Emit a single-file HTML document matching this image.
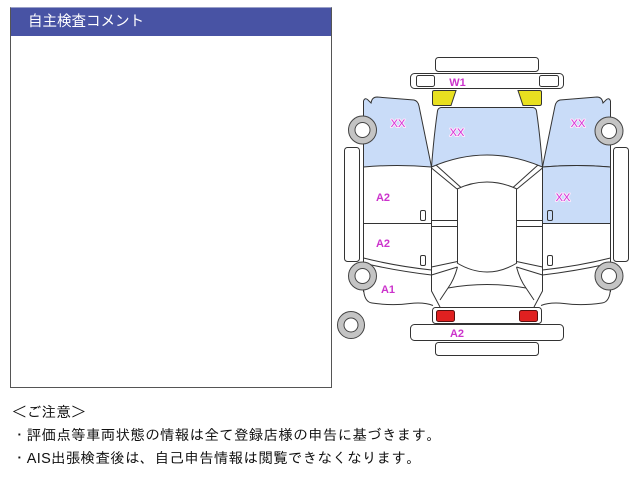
<!DOCTYPE html>
<html><head><meta charset="utf-8">
<style>
html,body{margin:0;padding:0;background:#fff;width:640px;height:480px;overflow:hidden;position:relative;}
.panel{position:absolute;left:10px;top:7px;width:320px;height:379px;border:1px solid #555;border-top:1px solid #9aa0c8;background:#fff;}
.hdr{position:absolute;left:0;top:0;width:320px;height:28px;background:#4853a4;color:#fff;font-family:"Liberation Sans","Noto Sans CJK JP",sans-serif;font-size:14.5px;line-height:28px;padding-left:17px;box-sizing:border-box;}
.note{position:absolute;left:12px;font-family:"Liberation Sans","IPAGothic",sans-serif;font-size:14.5px;line-height:23px;color:#111;white-space:nowrap;letter-spacing:0.3px;}
svg{position:absolute;left:0;top:0;}
.lb{font-family:"Liberation Sans",sans-serif;font-size:11px;font-weight:bold;fill:#cc33cc;text-anchor:middle;}
.xx{font-family:"Liberation Sans",sans-serif;font-size:11px;fill:#d633d6;text-anchor:middle;stroke:#fbe8fb;stroke-width:2;paint-order:stroke;stroke-linejoin:round;}
</style></head><body>
<div class="panel"><div class="hdr">自主検査コメント</div></div>

<svg width="640" height="480" viewBox="0 0 640 480" xmlns="http://www.w3.org/2000/svg">
<g stroke="#333" stroke-width="1" fill="none">
  <rect x="435.5" y="57.5" width="103" height="14" rx="3" fill="#fff"/>
  <rect x="410.5" y="73.5" width="153" height="15" rx="4" fill="#fff"/>
  <rect x="416.5" y="75.5" width="18" height="11" rx="2" fill="#fff"/>
  <rect x="539.5" y="75.5" width="19" height="11" rx="2" fill="#fff"/>
  <path d="M432.5,92 Q432.5,90.5 434.5,90.5 L456,90.5 L451,105.5 L434.5,105.5 Q432.5,105.5 432.5,103.5 Z" fill="#e8e020"/>
  <path d="M541.5,92 Q541.5,90.5 539.5,90.5 L518,90.5 L523,105.5 L539.5,105.5 Q541.5,105.5 541.5,103.5 Z" fill="#e8e020"/>
  <path d="M441,107.5 L533,107.5 Q536,108 536.5,111 Q540,135 542.5,167 Q487,143 431.5,167 Q434,135 437.5,111 Q438,108 441,107.5 Z" fill="#c9dcf8"/>
  <path d="M363.5,167 L363.5,101 Q364.5,97.5 367.5,99.5 L371,103 Q372,97 377,97 L414,100 Q418,101 419,106 L431.5,167 Q397,164 363.5,167 Z" fill="#c9dcf8"/>
  <path d="M363.5,167 L363.5,101 Q364.5,97.5 367.5,99.5 L371,103 Q372,97 377,97 L414,100 Q418,101 419,106 L431.5,167 Q397,164 363.5,167 Z" fill="#c9dcf8" transform="translate(974,0) scale(-1,1)"/>
  <path d="M542.5,167 Q577,164 610.5,167 L610.5,223.5 L542.5,223.5 Z" fill="#c9dcf8"/>

  <path d="M363.5,167 L363.5,292"/>
  <path d="M363.5,223.5 L431.5,223.5"/>
  <path d="M363.5,258 Q395,266 431.5,270"/>
  <path d="M367,264 Q398,271 431.5,275"/>
  <path d="M363.5,288 Q364,302 372,303 Q392,306 410,303.5 Q424,302 433,305.5"/>
  <path d="M610.5,167 L610.5,292"/>
  <path d="M542.5,223.5 L610.5,223.5"/>
  <path d="M610.5,258 Q579,266 542.5,270"/>
  <path d="M607,264 Q576,271 542.5,275"/>
  <path d="M610.5,288 Q610,302 602,303 Q582,306 564,303.5 Q550,302 541,305.5"/>

  <path d="M431.5,167 L431.5,291 L440,307"/>
  <path d="M542.5,167 L542.5,291 L534,307"/>
  <path d="M431.5,168 L457,189"/>
  <path d="M436,165 L461,187.5"/>
  <path d="M542.5,168 L517,189"/>
  <path d="M538,165 L513,187.5"/>
  <path d="M457,189 Q487,175 517,189"/>
  <path d="M457.5,189 L457.5,263"/>
  <path d="M516.5,189 L516.5,263"/>
  <path d="M457,263 Q487,281 517,263"/>
  <path d="M431.5,220.5 L457.5,220.5 M431.5,226.5 L457.5,226.5"/>
  <path d="M516.5,220.5 L542.5,220.5 M516.5,226.5 L542.5,226.5"/>
  <path d="M431.5,267 L457.5,261.5 M431.5,275 L457.5,267"/>
  <path d="M542.5,267 L516.5,261.5 M542.5,275 L516.5,267"/>
  <path d="M457.5,267 Q454,280 448,288"/>
  <path d="M516.5,267 Q520,280 526,288"/>
  <path d="M448,288 Q487,281 526,288"/>
  <path d="M448,288 L440,300 M526,288 L534,300"/>

  <rect x="420.5" y="210.5" width="5" height="10" rx="1.5" fill="#fff"/>
  <rect x="420.5" y="255.5" width="5" height="10" rx="1.5" fill="#fff"/>
  <rect x="547.5" y="210.5" width="5" height="10" rx="1.5" fill="#c9dcf8"/>
  <rect x="547.5" y="255.5" width="5" height="10" rx="1.5" fill="#fff"/>

  <rect x="344.5" y="147.5" width="15" height="114" rx="3" fill="#fff"/>
  <rect x="613.5" y="147.5" width="15" height="114" rx="3" fill="#fff"/>

  <rect x="432.5" y="307.5" width="109" height="16" rx="3" fill="#fff"/>
  <rect x="436.5" y="310.5" width="18" height="11" rx="2" fill="#e02020" stroke="#5a1010"/>
  <rect x="519.5" y="310.5" width="18" height="11" rx="2" fill="#e02020" stroke="#5a1010"/>
  <rect x="410.5" y="324.5" width="153" height="16" rx="4" fill="#fff"/>
  <rect x="435.5" y="342.5" width="103" height="13" rx="3" fill="#fff"/>

  <g fill="#c4c4c4" stroke="#444">
    <circle cx="362.5" cy="130" r="14"/>
    <circle cx="362.5" cy="276" r="14"/>
    <circle cx="609" cy="131" r="14"/>
    <circle cx="609" cy="276" r="14"/>
    <circle cx="351" cy="325" r="13.5"/>
  </g>
  <g fill="#fff" stroke="#444">
    <circle cx="362.5" cy="130" r="7.5"/>
    <circle cx="362.5" cy="276" r="7.5"/>
    <circle cx="609" cy="131" r="7.5"/>
    <circle cx="609" cy="276" r="7.5"/>
    <circle cx="351" cy="325" r="7"/>
  </g>
</g>

<text class="lb" x="457.5" y="86">W1</text>
<text class="xx" x="398" y="127">XX</text>
<text class="xx" x="457" y="136">XX</text>
<text class="xx" x="578" y="127">XX</text>
<text class="xx" x="563" y="201">XX</text>
<text class="lb" x="383" y="201">A2</text>
<text class="lb" x="383" y="247">A2</text>
<text class="lb" x="388" y="293">A1</text>
<text class="lb" x="457" y="337">A2</text>
</svg>

<div class="note" style="top:402px;">＜ご注意＞</div>
<div class="note" style="top:425px;">・評価点等車両状態の情報は全て登録店様の申告に基づきます。</div>
<div class="note" style="top:448px;">・AIS出張検査後は、自己申告情報は閲覧できなくなります。</div>
</body></html>
